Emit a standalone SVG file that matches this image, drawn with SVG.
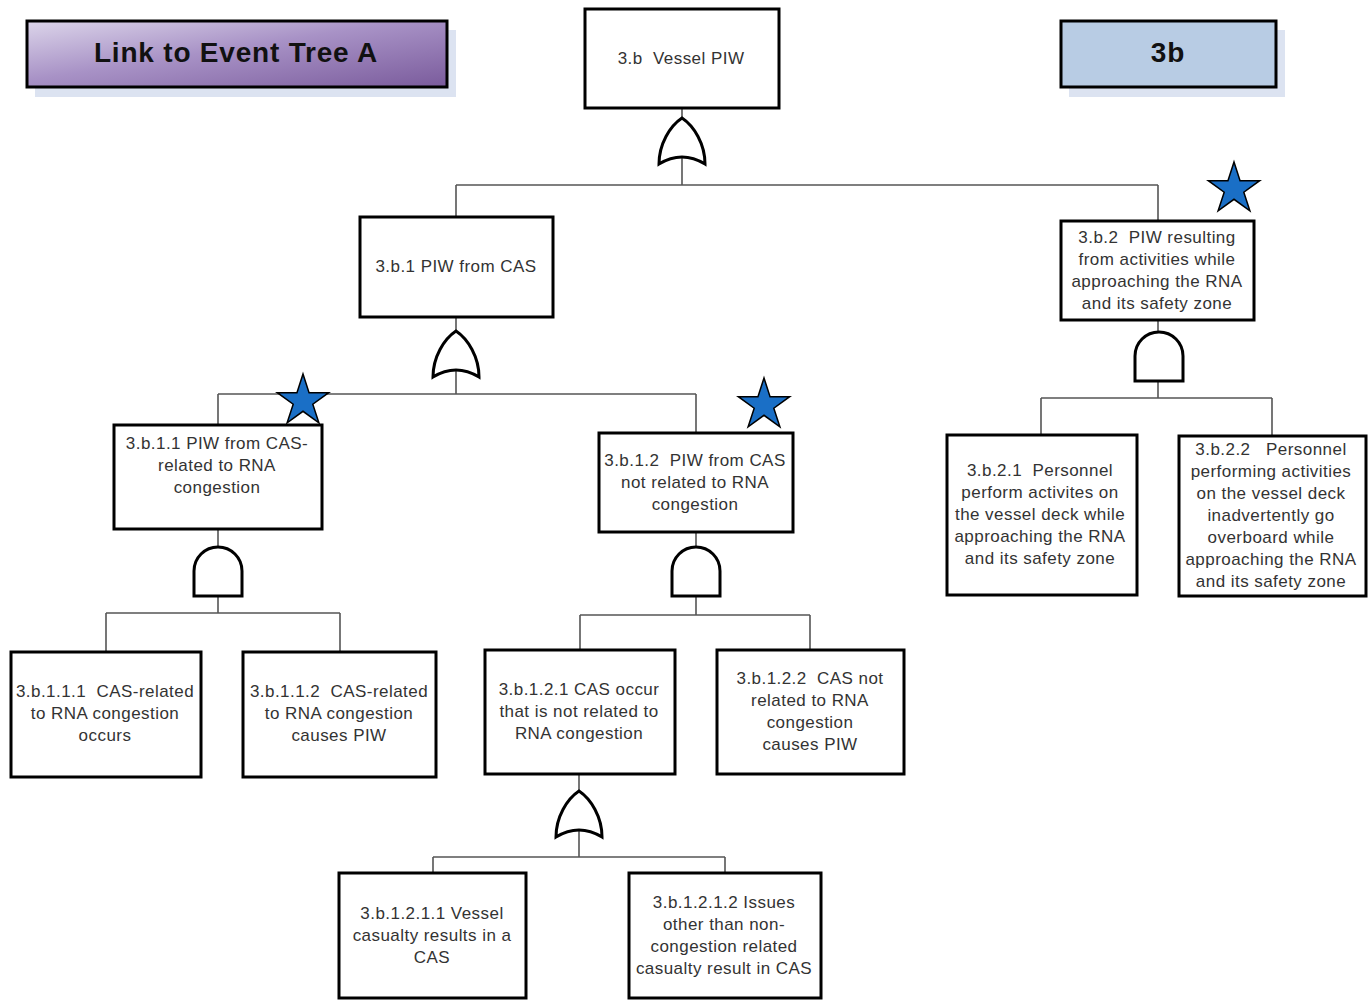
<svg xmlns="http://www.w3.org/2000/svg" width="1372" height="1000" viewBox="0 0 1372 1000">
<defs>
<linearGradient id="purple" x1="0" y1="0" x2="1" y2="1">
<stop offset="0" stop-color="#dcd5ea"/>
<stop offset="0.45" stop-color="#a892c6"/>
<stop offset="1" stop-color="#7a5b9c"/>
</linearGradient>
<path id="orGate" d="M-23,46 C-23,26 -12,8 0,0 C12,8 23,26 23,46 Q0,32 -23,46 Z"/>
<path id="andGate" d="M-24,49 L-24,24 A24,24 0 0 1 24,24 L24,49 Z"/>
<polygon id="star" points="0,-27 6.05,-8.33 25.68,-8.34 9.8,3.18 15.87,21.84 0,10.3 -15.87,21.84 -9.8,3.18 -25.68,-8.34 -6.05,-8.33"/>
</defs>
<style>
.box{fill:#fff;stroke:#000;stroke-width:3}
.t{font-family:"Liberation Sans",Arial,sans-serif;font-size:17px;letter-spacing:0.45px;fill:#333;text-anchor:middle;white-space:pre}
.big{font-family:"Liberation Sans",Arial,sans-serif;font-size:28px;letter-spacing:0.8px;font-weight:bold;fill:#111;text-anchor:middle}
.gate{fill:#fff;stroke:#000;stroke-width:3}
.star{fill:#1a6fc6;stroke:#000;stroke-width:1.5}
.c{fill:none;stroke:#555;stroke-width:1.6}
.shadow{fill:#dce3f1}
</style>
<rect width="1372" height="1000" fill="#fff"/>

<g id="connectors">
<path class="c" d="M682,108 V185 M456,185 H1158 M456,185 V217 M1158,185 V221"/>
<path class="c" d="M456,317 V394 M218,394 H696 M218,394 V425 M696,394 V433"/>
<path class="c" d="M218,529 V613 M106,613 H340 M106,613 V652 M340,613 V652"/>
<path class="c" d="M696,532 V615 M580,615 H810 M580,615 V650 M810,615 V650"/>
<path class="c" d="M579,774 V857 M433,857 H725 M433,857 V873 M725,857 V873"/>
<path class="c" d="M1158,320 V398 M1041,398 H1272 M1041,398 V435 M1272,398 V436"/>
</g>

<g id="link-event-tree-a">
<rect class="shadow" x="35" y="30" width="421" height="67"/>
<rect x="27" y="21" width="420" height="66" fill="url(#purple)" stroke="#000" stroke-width="3"/>
<text class="big" x="236" y="62">Link to Event Tree A</text>
</g>

<g id="label-3b">
<rect class="shadow" x="1069" y="30" width="216" height="67"/>
<rect x="1061" y="21" width="215" height="66" fill="#b8cce4" stroke="#000" stroke-width="3"/>
<text class="big" x="1168" y="62">3b</text>
</g>

<g id="n-3b">
<rect class="box" x="585" y="9" width="194" height="99"/>
<text class="t" x="681" y="64">3.b  Vessel PIW</text>
</g>
<g id="gate-3b"><use href="#orGate" class="gate" x="682" y="118"/></g>

<g id="n-3b1">
<rect class="box" x="360" y="217" width="193" height="100"/>
<text class="t" x="456" y="272">3.b.1 PIW from CAS</text>
</g>
<g id="gate-3b1"><use href="#orGate" class="gate" x="456" y="331"/></g>

<g id="n-3b11">
<rect class="box" x="114" y="425" width="208" height="104"/>
<text class="t" x="217" y="449">3.b.1.1 PIW from CAS-</text>
<text class="t" x="217" y="471">related to RNA</text>
<text class="t" x="217" y="493">congestion</text>
</g>
<g id="star-3b11"><use href="#star" class="star" x="303" y="401"/></g>
<g id="gate-3b11"><use href="#andGate" class="gate" x="218" y="547"/></g>

<g id="n-3b111">
<rect class="box" x="11" y="652" width="190" height="125"/>
<text class="t" x="105" y="697">3.b.1.1.1  CAS-related</text>
<text class="t" x="105" y="719">to RNA congestion</text>
<text class="t" x="105" y="741">occurs</text>
</g>

<g id="n-3b112">
<rect class="box" x="243" y="652" width="193" height="125"/>
<text class="t" x="339" y="697">3.b.1.1.2  CAS-related</text>
<text class="t" x="339" y="719">to RNA congestion</text>
<text class="t" x="339" y="741">causes PIW</text>
</g>

<g id="n-3b12">
<rect class="box" x="599" y="433" width="194" height="99"/>
<text class="t" x="695" y="466">3.b.1.2  PIW from CAS</text>
<text class="t" x="695" y="488">not related to RNA</text>
<text class="t" x="695" y="510">congestion</text>
</g>
<g id="star-3b12"><use href="#star" class="star" x="764" y="405"/></g>
<g id="gate-3b12"><use href="#andGate" class="gate" x="696" y="547"/></g>

<g id="n-3b121">
<rect class="box" x="485" y="650" width="190" height="124"/>
<text class="t" x="579" y="695">3.b.1.2.1 CAS occur</text>
<text class="t" x="579" y="717">that is not related to</text>
<text class="t" x="579" y="739">RNA congestion</text>
</g>
<g id="gate-3b121"><use href="#orGate" class="gate" x="579" y="791"/></g>

<g id="n-3b122">
<rect class="box" x="717" y="650" width="187" height="124"/>
<text class="t" x="810" y="684">3.b.1.2.2  CAS not</text>
<text class="t" x="810" y="706">related to RNA</text>
<text class="t" x="810" y="728">congestion</text>
<text class="t" x="810" y="750">causes PIW</text>
</g>

<g id="n-3b1211">
<rect class="box" x="339" y="873" width="187" height="125"/>
<text class="t" x="432" y="919">3.b.1.2.1.1 Vessel</text>
<text class="t" x="432" y="941">casualty results in a</text>
<text class="t" x="432" y="963">CAS</text>
</g>

<g id="n-3b1212">
<rect class="box" x="629" y="873" width="192" height="125"/>
<text class="t" x="724" y="908">3.b.1.2.1.2 Issues</text>
<text class="t" x="724" y="930">other than non-</text>
<text class="t" x="724" y="952">congestion related</text>
<text class="t" x="724" y="974">casualty result in CAS</text>
</g>

<g id="n-3b2">
<rect class="box" x="1061" y="221" width="193" height="99"/>
<text class="t" x="1157" y="243">3.b.2  PIW resulting</text>
<text class="t" x="1157" y="265">from activities while</text>
<text class="t" x="1157" y="287">approaching the RNA</text>
<text class="t" x="1157" y="309">and its safety zone</text>
</g>
<g id="star-3b2"><use href="#star" class="star" x="1234" y="189"/></g>
<g id="gate-3b2"><use href="#andGate" class="gate" x="1159" y="332"/></g>

<g id="n-3b21">
<rect class="box" x="947" y="435" width="190" height="160"/>
<text class="t" x="1040" y="476">3.b.2.1  Personnel</text>
<text class="t" x="1040" y="498">perform activites on</text>
<text class="t" x="1040" y="520">the vessel deck while</text>
<text class="t" x="1040" y="542">approaching the RNA</text>
<text class="t" x="1040" y="564">and its safety zone</text>
</g>

<g id="n-3b22">
<rect class="box" x="1179" y="436" width="187" height="160"/>
<text class="t" x="1271" y="455">3.b.2.2   Personnel</text>
<text class="t" x="1271" y="477">performing activities</text>
<text class="t" x="1271" y="499">on the vessel deck</text>
<text class="t" x="1271" y="521">inadvertently go</text>
<text class="t" x="1271" y="543">overboard while</text>
<text class="t" x="1271" y="565">approaching the RNA</text>
<text class="t" x="1271" y="587">and its safety zone</text>
</g>
</svg>
